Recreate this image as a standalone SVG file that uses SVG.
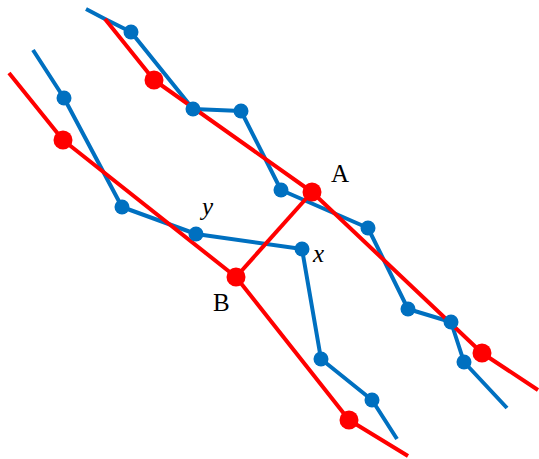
<svg xmlns="http://www.w3.org/2000/svg" width="539" height="459" viewBox="0 0 539 459">
<style>
.b{fill:none;stroke:#0070C0;stroke-width:4;stroke-linejoin:round}
.r{fill:none;stroke:#FF0000;stroke-width:4;stroke-linejoin:round}
.bn{fill:#0070C0}
.rn{fill:#FF0000}
.t{font-family:"Liberation Serif","Times New Roman",serif;font-size:25px;fill:#000}
.ti{font-style:italic}
</style>
<rect width="539" height="459" fill="#fff"/>
<g id="connectors">
<polyline class="b" points="86,9 105,19 131,32 193,109 241,111 281,190 368,228 408,309 451,322 464,362 507,408"/>
<polyline class="b" points="33,50 64,98 122,207 196,234 302,249 321,359 372,400 397,439"/>
<polyline class="r" points="105,19 154,80 312,192 482,353 538,390"/>
<polyline class="r" points="9,73 63,140 236,277 349,420 408,456"/>
<line class="r" x1="312" y1="192" x2="236" y2="277"/>
</g>
<g id="u1"><circle class="bn" cx="131" cy="32" r="7.5"/></g>
<g id="u2"><circle class="bn" cx="193" cy="109" r="7.5"/></g>
<g id="u3"><circle class="bn" cx="241" cy="111" r="7.5"/></g>
<g id="u4"><circle class="bn" cx="281" cy="190" r="7.5"/></g>
<g id="u5"><circle class="bn" cx="368" cy="228" r="7.5"/></g>
<g id="u6"><circle class="bn" cx="408" cy="309" r="7.5"/></g>
<g id="u7"><circle class="bn" cx="451" cy="322" r="7.5"/></g>
<g id="u8"><circle class="bn" cx="464" cy="362" r="7.5"/></g>
<g id="l1"><circle class="bn" cx="64" cy="98" r="7.5"/></g>
<g id="l2"><circle class="bn" cx="122" cy="207" r="7.5"/></g>
<g id="y"><circle class="bn" cx="196" cy="234" r="7.5"/><text class="t ti" x="202" y="215">y</text></g>
<g id="x"><circle class="bn" cx="302" cy="249" r="7.5"/><text class="t ti" x="313" y="262">x</text></g>
<g id="l3"><circle class="bn" cx="321" cy="359" r="7.5"/></g>
<g id="l4"><circle class="bn" cx="372" cy="400" r="7.5"/></g>
<g id="r1"><circle class="rn" cx="154" cy="80" r="9.5"/></g>
<g id="A"><circle class="rn" cx="312" cy="192" r="9.5"/><text class="t" x="331" y="182">A</text></g>
<g id="r2"><circle class="rn" cx="482" cy="353" r="9.5"/></g>
<g id="r3"><circle class="rn" cx="63" cy="140" r="9.5"/></g>
<g id="B"><circle class="rn" cx="236" cy="277" r="9.5"/><text class="t" x="213" y="311">B</text></g>
<g id="r4"><circle class="rn" cx="349" cy="420" r="9.5"/></g>
</svg>
